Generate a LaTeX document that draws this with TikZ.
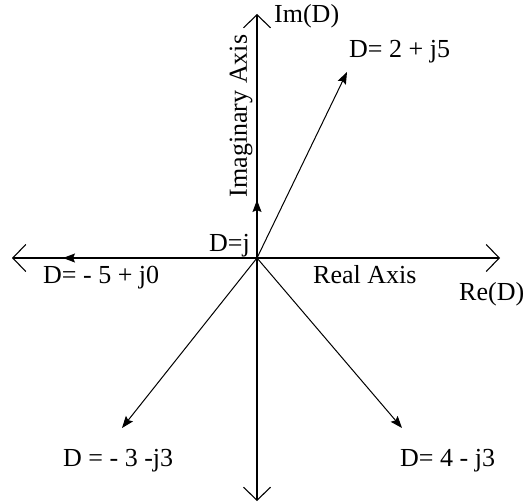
\documentclass[tikz,border=0pt]{standalone}
\usepackage{fontspec}
\setmainfont{Liberation Serif}
\usetikzlibrary{arrows.meta}
\begin{document}
\begin{tikzpicture}[x=1pt,y=-1pt,
  lbl/.style={font=\fontsize{26}{31}\selectfont, inner sep=0pt, anchor=base west},
  axisline/.style={line width=1.3pt, {Straight Barb[length=13pt,width=27pt,line width=1.1pt]}-{Straight Barb[length=13pt,width=27pt,line width=1.1pt]}},
  vec/.style={line width=1pt, -{Stealth[length=12pt,width=9pt,inset=2pt]}}]
\useasboundingbox (0,0) rectangle (527,503);
% axis ends and origin
\coordinate (O) at (257,258);
\coordinate (L) at (12,258);
\coordinate (R) at (500,258);
\coordinate (T) at (257,14);
\coordinate (B) at (257,501);
% vector tips
\coordinate (Pj) at (257,200);
\coordinate (Pm5) at (63,258);
\coordinate (P25) at (347,72);
\coordinate (Pm3) at (122,428);
\coordinate (P43) at (402,428);
% axes
\draw[axisline] (L) -- (R);
\draw[axisline] (B) -- (T);
% vectors
\draw[vec] (O) -- (Pj);
\draw[vec] (O) -- (Pm5);
\draw[vec] (O) -- (P25);
\draw[vec] (O) -- (Pm3);
\draw[vec] (O) -- (P43);
% labels
\node[lbl] (im) at (274,23) {Im(D)};
\node[font=\fontsize{26}{31}\selectfont, inner sep=0pt, rotate=90] (imax) at (241,116) {Imaginary Axis};
\node[lbl] (l25) at (349,58) {D= 2 + j5};
\node[lbl] (lj) at (209,251) {D=j};
\node[lbl] (lm5) at (43,283) {D= - 5 + j0};
\node[lbl] (real) at (313,283) {Real Axis};
\node[lbl] (re) at (459,300) {Re(D)};
\node[lbl] (lm3) at (63,466) {D = - 3 -j3};
\node[lbl] (l43) at (400,466) {D= 4 - j3};
\end{tikzpicture}
\end{document}
